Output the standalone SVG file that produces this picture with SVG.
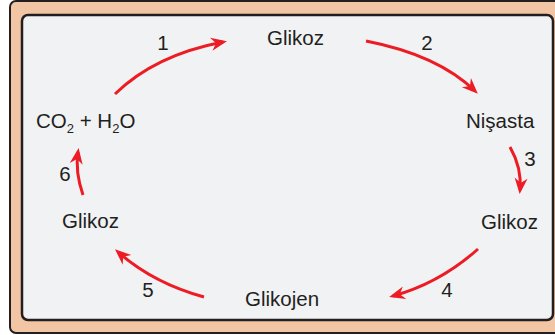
<svg xmlns="http://www.w3.org/2000/svg" width="555" height="335" viewBox="0 0 555 335">
<style>
.t{font-family:"Liberation Sans",Arial,sans-serif;font-size:20.5px;fill:#231f20}
.sub{font-size:13px}
.a{fill:none;stroke:#ed1c24;stroke-width:3;marker-end:url(#ah)}
</style>
<defs>
<marker id="ah" markerUnits="userSpaceOnUse" markerWidth="30" markerHeight="30" refX="0" refY="0" orient="auto" viewBox="-15 -15 30 30" overflow="visible">
<path d="M4,0 L-12,-6.5 L-7,0 L-12,6.5 Z" fill="#ed1c24"/>
</marker>
</defs>
<rect x="10" y="1" width="560" height="332" rx="6" fill="#f2c6a5" stroke="#231f20" stroke-width="2"/>
<rect x="22" y="15" width="531" height="305" rx="6" fill="#f1f2f4" stroke="#231f20" stroke-width="2.5"/>
<g id="connectors">
<path class="a" d="M115,94 Q155,55 223,42"/>
<path class="a" d="M366,41 Q438,55 475,91"/>
<path class="a" d="M510,147 Q522,168 520,190"/>
<path class="a" d="M478,249 Q440,283 393,296"/>
<path class="a" d="M204,297 Q153,283 118,252"/>
<path class="a" d="M83,195 Q75,172 78,152"/>
</g>
<g id="n-glikoz-top"><text class="t" x="267" y="45">Glikoz</text></g>
<g id="n-nisasta"><text class="t" x="466" y="128">Nişasta</text></g>
<g id="n-glikoz-right"><text class="t" x="481" y="229">Glikoz</text></g>
<g id="n-glikojen"><text class="t" x="245" y="306">Glikojen</text></g>
<g id="n-glikoz-left"><text class="t" x="62" y="228">Glikoz</text></g>
<g id="n-co2"><text class="t" x="36" y="128">CO<tspan class="sub" dy="5">2</tspan><tspan dy="-5"> + H</tspan><tspan class="sub" dy="5">2</tspan><tspan dy="-5">O</tspan></text></g>
<g id="labels">
<text class="t" x="163" y="50" text-anchor="middle">1</text>
<text class="t" x="427" y="50" text-anchor="middle">2</text>
<text class="t" x="530" y="166" text-anchor="middle">3</text>
<text class="t" x="447" y="297" text-anchor="middle">4</text>
<text class="t" x="148" y="297" text-anchor="middle">5</text>
<text class="t" x="65" y="181" text-anchor="middle">6</text>
</g>
</svg>
